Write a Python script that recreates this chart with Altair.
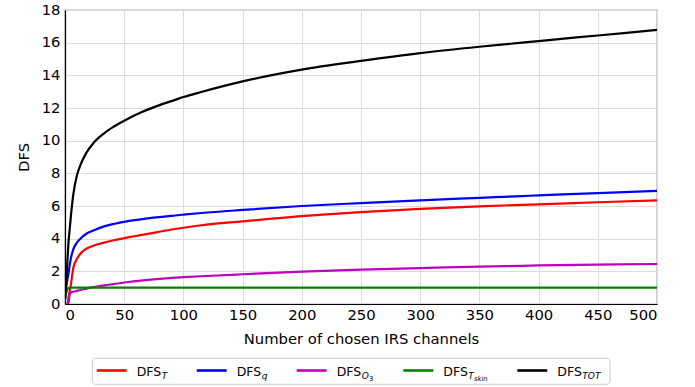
import altair as alt
import pandas as pd

# ---- data ----
channels = [0, 1, 2, 3, 4, 5, 7, 10, 13, 18, 24, 33, 41, 52, 64, 77, 93, 100,
            115, 150, 200, 250, 300, 350, 386, 400, 450, 500]

dfs_T = [0.0, 0.0, 0.0, 0.4, 0.8, 1.2, 2.2, 2.75, 3.08, 3.38, 3.57, 3.76, 3.9,
         4.06, 4.22, 4.39, 4.59, 4.67, 4.82, 5.06, 5.38, 5.63, 5.82, 5.98, 6.07,
         6.1, 6.23, 6.35]
dfs_q = [0.4, 1.0, 1.5, 1.9, 2.4, 2.8, 3.35, 3.75, 4.0, 4.3, 4.5, 4.75, 4.9,
         5.06, 5.18, 5.3, 5.42, 5.47, 5.57, 5.76, 6.0, 6.18, 6.35, 6.5, 6.61,
         6.65, 6.79, 6.92]
dfs_O3 = [0.0, 0.0, 0.0, 0.1, 0.6, 0.7, 0.75, 0.8, 0.86, 0.94, 1.03, 1.14,
          1.22, 1.33, 1.43, 1.52, 1.61, 1.64, 1.7, 1.82, 1.98, 2.1, 2.2, 2.29,
          2.34, 2.36, 2.41, 2.45]
dfs_Tskin = [0.2, 0.65, 0.9, 0.98, 1.0, 1.0, 1.0, 1.0, 1.0, 1.0, 1.0, 1.0,
             1.0, 1.0, 1.0, 1.0, 1.0, 1.0, 1.0, 1.0, 1.0, 1.0, 1.0, 1.0, 1.0,
             1.0, 1.0, 1.0]
dfs_TOT = [0.3, 1.3, 2.6, 3.8, 4.6, 5.4, 6.7, 7.85, 8.5, 9.25, 9.85, 10.45,
           10.85, 11.3, 11.72, 12.1, 12.5, 12.67, 12.98, 13.63, 14.35, 14.88,
           15.36, 15.75, 16.0, 16.1, 16.44, 16.78]

series_names = ["T", "q", "O3", "Tskin", "TOT"]
series_values = [dfs_T, dfs_q, dfs_O3, dfs_Tskin, dfs_TOT]
colors = ["#ff0000", "#0000ff", "#bf00bf", "#008000", "#000000"]

x_ticks = list(range(0, 501, 50))
y_ticks = list(range(0, 19, 2))

rows = []
for name, vals in zip(series_names, series_values):
    for c, v in zip(channels, vals):
        rows.append({"channels": c, "dfs": v, "series": name})
df = pd.DataFrame(rows)

FONT = "DejaVu Sans"
W, H = 592, 294
PL, PT = 65, 10

lines = alt.Chart(df).mark_line(strokeWidth=2.2, clip=True, interpolate="monotone").encode(
    x=alt.X("channels:Q", scale=alt.Scale(domain=[0, 500], nice=False),
            axis=alt.Axis(title="Number of chosen IRS channels", values=x_ticks,
                          labelPadding=3, titlePadding=10, titleFontSize=14.8)),
    y=alt.Y("dfs:Q", scale=alt.Scale(domain=[0, 18], nice=False),
            axis=alt.Axis(title="DFS", values=y_ticks, labelPadding=5,
                          titlePadding=10, titleFontSize=14.8)),
    color=alt.Color("series:N", scale=alt.Scale(domain=series_names, range=colors),
                    legend=None),
)

one = pd.DataFrame({"k": [0]})


def px(x):
    return x - PL


def py(y):
    return y - PT


layers = [lines]

# legend frame
layers.append(alt.Chart(one).mark_rect(fill="white", stroke="#cccccc", strokeWidth=1,
                                        cornerRadius=3).encode(
    x=alt.value(px(92.3)), x2=alt.value(px(610)),
    y=alt.value(py(358.3)), y2=alt.value(py(384.3))))

line_starts = [96.7, 196.7, 296.7, 403.3, 517.3]
# (main subscript, optional second-level subscript, second-level italic)
subs = [("T", None, True), ("q", None, True), ("O", "3", False),
        ("T", "skin", True), ("TOT", None, True)]
sub_w = {"T": 5.6, "O": 7.2}

for xs, col, (s1, s2, it2) in zip(line_starts, colors, subs):
    layers.append(alt.Chart(one).mark_rule(color=col, strokeWidth=2.6).encode(
        x=alt.value(px(xs)), x2=alt.value(px(xs + 30)), y=alt.value(py(370.5))))
    tx = xs + 40
    layers.append(alt.Chart(one).mark_text(
        text="DFS", align="left", baseline="alphabetic", font=FONT, fontSize=12.5,
        color="black").encode(x=alt.value(px(tx)), y=alt.value(py(375.5))))
    layers.append(alt.Chart(one).mark_text(
        text=s1, align="left", baseline="alphabetic", font=FONT, fontSize=9,
        fontStyle="italic", color="black").encode(
        x=alt.value(px(tx + 25)), y=alt.value(py(378.5))))
    if s2:
        layers.append(alt.Chart(one).mark_text(
            text=s2, align="left", baseline="alphabetic", font=FONT, fontSize=6.8,
            fontStyle="italic" if it2 else "normal", color="black").encode(
            x=alt.value(px(tx + 25 + sub_w[s1])), y=alt.value(py(380.5))))

chart = alt.layer(*layers).properties(
    width=W, height=H,
    autosize=alt.AutoSizeParams(type="none"),
    padding={"left": PL, "top": PT, "right": 695 - PL - W, "bottom": 387 - PT - H},
).configure_axis(
    labelFont=FONT, titleFont=FONT, labelFontSize=14.8, titleFontWeight="normal",
    labelColor="black", titleColor="black", grid=True, gridColor="#dcdcdc",
    gridWidth=1, domainColor="black", domainWidth=1.2, ticks=False, tickSize=0,
).configure_view(stroke="#666666", strokeWidth=1.2)

chart.save("out.html", embed_options={"renderer": "svg", "actions": False})
